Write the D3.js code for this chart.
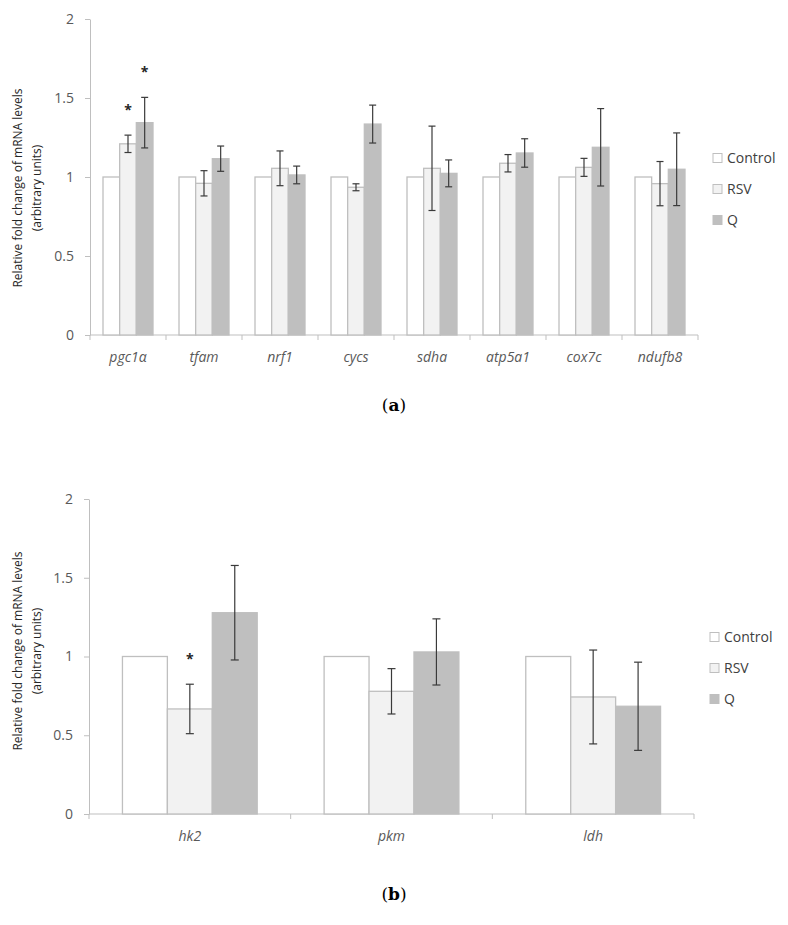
<!DOCTYPE html>
<html>
<head>
<meta charset="utf-8">
<script src="https://cdn.jsdelivr.net/npm/d3@7"></script>
<style>
  body { margin: 0; background: #fff; }
  svg { font-family: "Open Sans", sans-serif; }
  .tick text { fill: #595959; font-size: 14px; }
  .tick line, .domain { stroke: #bfbfbf; }
</style>
</head>
<body>
<div id="chart"></div>
<script>
// series / categories
var seriesNames = ["Control", "RSV", "Q"];
var seriesFill = ["#ffffff", "#f2f2f2", "#bfbfbf"];
var yTicks = [0, 0.5, 1, 1.5, 2];
var yTickLabels = ["0", "0.5", "1", "1.5", "2"];

// panel (a)
var genesA = ["pgc1α", "tfam", "nrf1", "cycs", "sdha", "atp5a1", "cox7c", "ndufb8"];
var controlA = [1, 1, 1, 1, 1, 1, 1, 1];
var rsvA = [1.21, 0.96, 1.055, 0.935, 1.055, 1.087, 1.061, 0.958];
var rsvErrA = [0.055, 0.08, 0.11, 0.022, 0.267, 0.055, 0.057, 0.14];
var qA = [1.344, 1.116, 1.013, 1.335, 1.023, 1.152, 1.188, 1.049];
var qErrA = [0.16, 0.08, 0.056, 0.12, 0.085, 0.09, 0.245, 0.23];
var starsA = [["pgc1α", "RSV"], ["pgc1α", "Q"]];

// panel (b)
var genesB = ["hk2", "pkm", "ldh"];
var controlB = [1, 1, 1];
var rsvB = [0.667, 0.779, 0.743];
var rsvErrB = [0.157, 0.144, 0.298];
var qB = [1.278, 1.029, 0.684];
var qErrB = [0.30, 0.21, 0.28];
var starsB = [["hk2", "RSV"]];

var svg = d3.select("#chart")
  .append("svg")
  .attr("width", 788)
  .attr("height", 925);

function drawPanel(p) {
  var g = svg.append("g");

  var x = d3.scaleBand()
    .domain(p.genes)
    .range(p.xRange)
    .paddingInner(p.pad)
    .paddingOuter(p.pad / 2);

  var xs = d3.scaleBand()
    .domain(seriesNames)
    .range([0, x.bandwidth()]);

  var y = d3.scaleLinear()
    .domain([0, 2])
    .range(p.yRange);

  // y axis
  g.append("g")
    .attr("transform", `translate(${p.xRange[0]},0)`)
    .call(d3.axisLeft(y)
      .tickValues(yTicks)
      .tickFormat((d, i) => yTickLabels[i])
      .tickSize(5)
      .tickSizeOuter(0)
      .tickPadding(11))
    .call(a => a.selectAll("text").style("font-family", "Open Sans"));

  // x axis line with ticks on category borders
  g.append("line")
    .attr("x1", p.xRange[0]).attr("x2", p.xRange[1])
    .attr("y1", y(0)).attr("y2", y(0))
    .attr("stroke", "#bfbfbf");

  g.selectAll(".xtick")
    .data(d3.range(p.genes.length + 1))
    .enter()
    .append("line")
    .attr("x1", i => p.xRange[0] + i * x.step())
    .attr("x2", i => p.xRange[0] + i * x.step())
    .attr("y1", y(0))
    .attr("y2", y(0) + 5)
    .attr("stroke", "#bfbfbf");

  g.selectAll(".xlab")
    .data(p.genes)
    .enter()
    .append("text")
    .attr("x", d => x(d) + x.bandwidth() / 2)
    .attr("y", y(0) + 27)
    .attr("text-anchor", "middle")
    .attr("font-style", "italic")
    .attr("font-size", 14)
    .attr("fill", "#595959")
    .text(d => d);

  // bars
  var rows = [];
  p.genes.forEach(function(gene, i) {
    p.values.forEach(function(vals, s) {
      rows.push({ gene: gene, s: s, v: vals[i], e: p.errors[s] ? p.errors[s][i] : null });
    });
  });

  g.selectAll(".bar")
    .data(rows)
    .enter()
    .append("rect")
    .attr("x", d => x(d.gene) + xs(seriesNames[d.s]))
    .attr("y", d => y(d.v))
    .attr("width", xs.bandwidth())
    .attr("height", d => y(0) - y(d.v))
    .attr("fill", d => seriesFill[d.s])
    .attr("stroke", "#bfbfbf")
    .attr("stroke-width", 1.3);

  var errRows = rows.filter(d => d.e != null);
  var cx = d => x(d.gene) + xs(seriesNames[d.s]) + xs.bandwidth() / 2;

  g.selectAll(".err")
    .data(errRows)
    .enter()
    .append("line")
    .attr("x1", cx).attr("x2", cx)
    .attr("y1", d => y(d.v + d.e))
    .attr("y2", d => y(d.v - d.e))
    .attr("stroke", "#3a3a3a")
    .attr("stroke-width", 1.2);

  [1, -1].forEach(function(sign) {
    g.selectAll(".cap" + sign)
      .data(errRows)
      .enter()
      .append("line")
      .attr("x1", d => cx(d) - p.cap)
      .attr("x2", d => cx(d) + p.cap)
      .attr("y1", d => y(d.v + sign * d.e))
      .attr("y2", d => y(d.v + sign * d.e))
      .attr("stroke", "#3a3a3a")
      .attr("stroke-width", 1.2);
  });

  // significance stars
  g.selectAll(".star")
    .data(p.stars)
    .enter()
    .append("text")
    .attr("x", d => x(d[0]) + xs(d[1]) + xs.bandwidth() / 2)
    .attr("y", function(d) {
      var r = rows.find(r => r.gene == d[0] && seriesNames[r.s] == d[1]);
      return y(r.v + r.e) - 20;
    })
    .attr("text-anchor", "middle")
    .attr("font-weight", "bold")
    .attr("font-size", 14)
    .attr("fill", "#262626")
    .text("*");

  // y axis title
  var yt = g.append("text")
    .attr("transform", `rotate(-90)`)
    .attr("text-anchor", "middle")
    .attr("font-size", 12)
    .attr("fill", "#262626");
  yt.append("tspan")
    .attr("x", -p.labelCenter).attr("y", 22)
    .text("Relative fold change of mRNA levels");
  yt.append("tspan")
    .attr("x", -p.labelCenter).attr("y", 41)
    .text("(arbitrary units)");

  // legend
  var lg = g.selectAll(".leg")
    .data(seriesNames)
    .enter()
    .append("g")
    .attr("transform", (d, i) => `translate(${p.legendX},${p.legendY + i * 31})`);
  lg.append("rect")
    .attr("x", 0).attr("y", -4.5)
    .attr("width", 9).attr("height", 9)
    .attr("fill", (d, i) => seriesFill[i])
    .attr("stroke", "#bfbfbf")
    .attr("stroke-width", 1);
  lg.append("text")
    .attr("x", 14).attr("y", 5)
    .attr("font-size", 14)
    .attr("fill", "#404040")
    .text(d => d);

  // caption
  var cap = svg.append("text")
    .attr("x", 394)
    .attr("y", p.captionY)
    .attr("text-anchor", "middle")
    .attr("font-family", "DejaVu Serif")
    .attr("font-size", 17)
    .attr("fill", "#000");
  cap.append("tspan").text("(");
  cap.append("tspan").attr("font-weight", "bold").text(p.caption);
  cap.append("tspan").text(")");
}

drawPanel({
  genes: genesA,
  values: [controlA, rsvA, qA],
  errors: [null, rsvErrA, qErrA],
  stars: starsA,
  xRange: [90, 698],
  yRange: [335, 19],
  pad: 26 / 76,
  cap: 3.5,
  legendX: 713,
  legendY: 158,
  labelCenter: 188,
  caption: "a",
  captionY: 411
});

drawPanel({
  genes: genesB,
  values: [controlB, rsvB, qB],
  errors: [null, rsvErrB, qErrB],
  stars: starsB,
  xRange: [89, 694],
  yRange: [814, 499],
  pad: 67 / 202,
  cap: 4,
  legendX: 710,
  legendY: 637,
  labelCenter: 651,
  caption: "b",
  captionY: 900
});
</script>
</body>
</html>
